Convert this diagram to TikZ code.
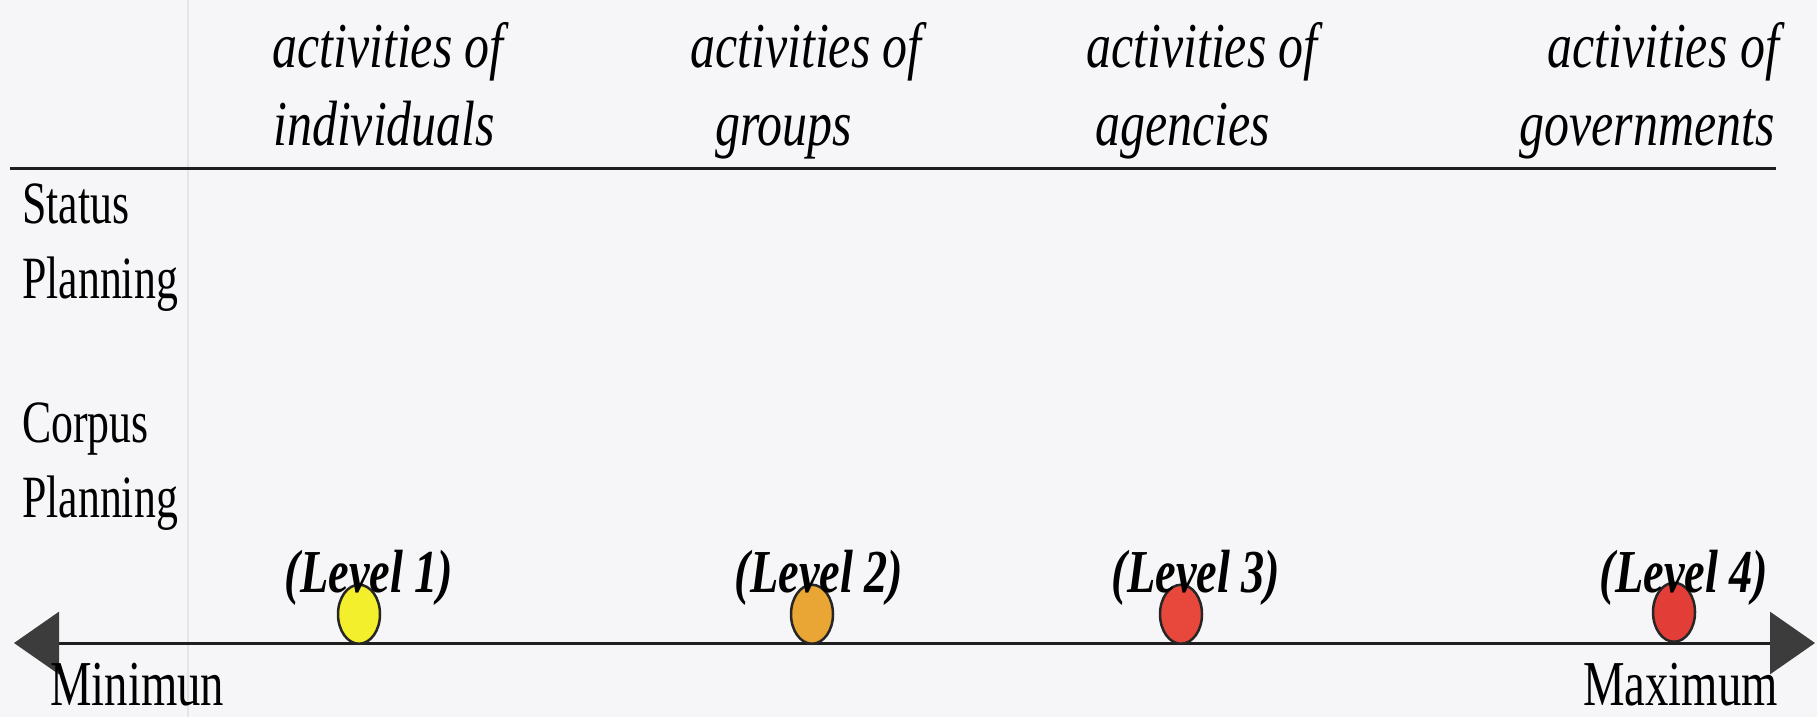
\documentclass[tikz,border=0pt]{standalone}
\usepackage{fontspec}
\usetikzlibrary{shapes.geometric,arrows.meta}
\newfontface\hdrit[FakeStretch=0.78]{Liberation Serif Italic}
\newfontface\lblrm[FakeStretch=0.73]{Liberation Serif}
\newfontface\lvlbi[FakeStretch=0.76]{Liberation Serif Bold Italic}
\definecolor{paper}{HTML}{F6F6F8}
\definecolor{dotyellow}{HTML}{F4EF2C}
\definecolor{dotorange}{HTML}{E9A635}
\definecolor{dotred}{HTML}{E8483B}
\definecolor{dotredb}{HTML}{E33D37}
\definecolor{tipgray}{HTML}{3C3C3C}
\tikzset{bigtip/.tip={Triangle[length=45pt,width=62pt,color=tipgray]}}
\begin{document}
\begin{tikzpicture}[x=1pt,y=-1pt,
  hdr/.style={inner sep=0pt, font=\hdrit\fontsize{64}{70}\selectfont},
  lbl/.style={inner sep=0pt, anchor=base west, font=\lblrm\fontsize{60}{66}\selectfont},
  endlbl/.style={inner sep=0pt, font=\lblrm\fontsize{64}{70}\selectfont},
  lvl/.style={inner sep=0pt, anchor=base, font=\lvlbi\fontsize{61}{66}\selectfont},
  dot/.style={ellipse, draw=black!85, line width=2.5pt, minimum width=42pt, minimum height=59pt, inner sep=0pt, anchor=south},
  rule/.style={line width=3pt, draw=black!88}
]
\fill[paper] (0,0) rectangle (1817,717);
\useasboundingbox (0,0) rectangle (1817,717);
% faint column edge
\draw[black!10, line width=1.5pt] (188,0) -- (188,717);

% headers
\node[hdr, anchor=base west] (h1a) at (272,67) {activities of};
\node[hdr, anchor=base west] (h1b) at (273,145) {individuals};
\node[hdr, anchor=base west] (h2a) at (690,67) {activities of};
\node[hdr, anchor=base west] (h2b) at (715,145) {groups};
\node[hdr, anchor=base west] (h3a) at (1086,67) {activities of};
\node[hdr, anchor=base west] (h3b) at (1095,145) {agencies};
\node[hdr, anchor=base east] (h4a) at (1779,67) {activities of};
\node[hdr, anchor=base east] (h4b) at (1775,145) {governments};

% top rule
\coordinate (tl) at (10,168);
\coordinate (tr) at (1776,168);
\draw[rule] (tl) -- (tr);

% row labels
\node[lbl] (s1) at (22,223) {Status};
\node[lbl] (s2) at (22,298) {Planning};
\node[lbl] (c1) at (22,442) {Corpus};
\node[lbl] (c2) at (22,517) {Planning};

% axis
\coordinate (amin) at (14,643);
\coordinate (amax) at (1815,643);
\draw[rule, bigtip-bigtip] (amin) -- (amax);

% level dots
\node[dot, fill=dotyellow] (d1) at (359,645) {};
\node[dot, fill=dotorange] (d2) at (812,645) {};
\node[dot, fill=dotred] (d3) at (1181,645) {};
\node[dot, fill=dotredb] (d4) at (1674,643) {};

% level labels
\node[lvl] (l1) at (369,592) {(Level 1)};
\node[lvl] (l2) at (819,592) {(Level 2)};
\node[lvl] (l3) at (1196,592) {(Level 3)};
\node[lvl] (l4) at (1684,592) {(Level 4)};

% axis end labels
\node[endlbl, anchor=base west] (mn) at (50,705) {Minimun};
\node[endlbl, anchor=base east] (mx) at (1778,705) {Maximum};
\end{tikzpicture}
\end{document}
